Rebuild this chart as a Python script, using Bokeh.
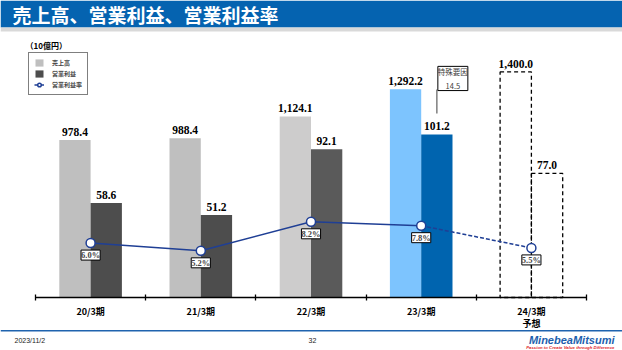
import numpy as np
from bokeh.plotting import figure
from bokeh.models import (Range1d, FixedTicker, ColumnDataSource, LabelSet, Label, LinearAxis,
                          BoxAnnotation, Legend, LegendItem, Arrow)
from bokeh.embed import file_html
from bokeh.resources import INLINE

# ---------------- data ----------------
categories = ["20/3期", "21/3期", "22/3期", "23/3期", "24/3期"]
category_notes = ["", "", "", "", "予想"]
net_sales = [978.4, 988.4, 1124.1, 1292.2, 1400.0]          # 売上高 (10億円)
operating_income = [58.6, 51.2, 92.1, 101.2, 77.0]           # 営業利益 (10億円)
operating_margin = [6.0, 5.2, 8.2, 7.8, 5.5]                 # 営業利益率 (%)
special_factor = 14.5                                        # 特殊要因 (23/3期)
n_actual = 4                                                 # last category is a forecast
sales_colors = ["#BFBFBF", "#BFBFBF", "#CDCCCC", "#7DC4FE"]
income_colors = ["#4D4D4D", "#4D4D4D", "#5A5A5A", "#0064AF"]

# ---------------- layout (pixel geometry of the slide) ----------------
W, H = 622, 350
AX_L, AX_R, AX_Y = 35.0, 586.0, 297.0      # axis extent / baseline on the page
SALES_PX = 0.1611                          # px per 10億円 (sales)
INCOME_PX = 1.611                          # px per 10億円 (operating income)
MARGIN_PX, MARGIN_ZERO_Y = 9.67, 300.6     # px per %, page y of 0 %
NUM_FONT = "Arial"
JP_FONT = "Noto Sans CJK JP"
LINE_BLUE = "#1F3F95"

n = len(categories)
xpx = (AX_R - AX_L) / n
x_range = Range1d(-AX_L / xpx, n + (W - AX_R) / xpx)
y_range = Range1d(-(H - AX_Y) / SALES_PX, AX_Y / SALES_PX)

p = figure(width=W, height=H, output_backend="svg", toolbar_location=None,
           x_range=x_range, y_range=y_range, x_axis_location=None, y_axis_location=None,
           min_border=0, min_border_left=0, min_border_right=0, min_border_top=0,
           min_border_bottom=0)
p.extra_y_ranges = {"income": Range1d(-(H - AX_Y) / INCOME_PX, AX_Y / INCOME_PX),
                    "margin": Range1d((MARGIN_ZERO_Y - H) / MARGIN_PX, MARGIN_ZERO_Y / MARGIN_PX)}
p.grid.visible = False
p.outline_line_color = None
p.background_fill_color = "white"
p.border_fill_color = "white"

centers = np.arange(n) + 0.5
bw = 0.284
sales_x = centers - bw / 2
inc_x = centers + bw / 2

act = ColumnDataSource(dict(xs=sales_x[:n_actual], xi=inc_x[:n_actual],
                            s=net_sales[:n_actual], i=operating_income[:n_actual],
                            cs=sales_colors, ci=income_colors))
fc = ColumnDataSource(dict(xs=sales_x[n_actual:], xi=inc_x[n_actual:],
                           s=net_sales[n_actual:], i=operating_income[n_actual:]))

r_sales = p.vbar(x="xs", top="s", width=bw, bottom=0, fill_color="cs", line_color=None, source=act)
r_inc = p.vbar(x="xi", top="i", width=bw, bottom=0, fill_color="ci", line_color=None,
               source=act, y_range_name="income")
p.vbar(x="xs", top="s", width=bw, bottom=0, fill_color=None, line_color="black",
       line_dash="4 3", line_width=1.3, source=fc)
p.vbar(x="xi", top="i", width=bw, bottom=0, fill_color=None, line_color="black",
       line_dash="4 3", line_width=1.3, source=fc, y_range_name="income")

# value labels
lab_src = ColumnDataSource(dict(xs=sales_x, xi=inc_x, s=net_sales, i=operating_income,
                                ts=[f"{v:,.1f}" for v in net_sales],
                                ti=[f"{v:,.1f}" for v in operating_income]))
p.add_layout(LabelSet(x="xs", y="s", text="ts", source=lab_src, y_offset=4,
                      text_align="center", text_baseline="bottom",
                      text_font=NUM_FONT, text_font_size="11.5px", text_font_style="bold",
                      text_color="black"))
p.add_layout(LabelSet(x="xi", y="i", text="ti", source=lab_src, y_offset=4,
                      text_align="center", text_baseline="bottom", y_range_name="income",
                      text_font=NUM_FONT, text_font_size="11.5px", text_font_style="bold",
                      text_color="black"))

# margin line
r_line = p.line(centers[:n_actual], operating_margin[:n_actual], y_range_name="margin",
                line_color=LINE_BLUE, line_width=1.5)
p.line(centers[n_actual - 1:], operating_margin[n_actual - 1:], y_range_name="margin",
       line_color=LINE_BLUE, line_width=1.5, line_dash="4 2")
r_pts = p.scatter(centers, operating_margin, y_range_name="margin", marker="circle",
                  size=9, fill_color="white", line_color=LINE_BLUE, line_width=1.5)
m_src = ColumnDataSource(dict(x=centers, y=operating_margin,
                              t=[f"{v:.1f}%" for v in operating_margin]))
p.add_layout(LabelSet(x="x", y="y", text="t", source=m_src, y_range_name="margin",
                      y_offset=-12, text_align="center", text_baseline="middle",
                      text_font=NUM_FONT, text_font_size="8.5px", text_font_style="bold",
                      background_fill_color="white", border_line_color="black",
                      border_line_width=1))

# special factor callout on 23/3 operating income
y_top = operating_income[n_actual - 1]
p.add_layout(Arrow(end=None, x_start=inc_x[n_actual - 1], x_end=inc_x[n_actual - 1],
                   y_start=y_top + 21 / INCOME_PX, y_end=y_top + 45 / INCOME_PX,
                   y_range_name="income", line_color="#7F7F7F", line_width=1.5))
p.add_layout(Label(x=inc_x[n_actual - 1], y=y_top, y_range_name="income", x_offset=16, y_offset=56,
                   text=f"特殊要因\n{special_factor}", text_align="center", text_baseline="middle",
                   text_font=JP_FONT, text_font_size="7.5px", text_color="#404040",
                   background_fill_color="white", border_line_color="black",
                   border_line_width=1))

# x axis drawn at the zero baseline
ax = LinearAxis(fixed_location=0, bounds=(0, n))
ax.ticker = FixedTicker(ticks=list(centers), minor_ticks=list(range(n + 1)))
ax.major_label_overrides = {float(c): (lab + ("\n" + note if note else ""))
                            for c, lab, note in zip(centers, categories, category_notes)}
ax.axis_line_color = "black"
ax.axis_line_width = 1.5
ax.major_tick_in = 0
ax.major_tick_out = 0
ax.minor_tick_in = 3
ax.minor_tick_out = 3
ax.minor_tick_line_color = "black"
ax.minor_tick_line_width = 1.3
ax.major_label_standoff = 4
ax.major_label_text_font = JP_FONT
ax.major_label_text_font_size = "9px"
ax.major_label_text_font_style = "bold"
ax.major_label_text_color = "black"
ax.major_label_text_line_height = 0.95
p.add_layout(ax, "below")

# legend
legend = Legend(items=[LegendItem(label="売上高", renderers=[r_sales], index=0),
                       LegendItem(label="営業利益", renderers=[r_inc], index=0),
                       LegendItem(label="営業利益率", renderers=[r_line, r_pts])],
                location=(28, H - 95), border_line_color="black", border_line_width=1.2,
                background_fill_color="white", background_fill_alpha=1,
                label_text_font=JP_FONT, label_text_font_size="6px", label_text_font_style="bold",
                glyph_width=10, glyph_height=9, label_height=9, spacing=2, padding=5,
                label_standoff=8, margin=0)
p.add_layout(legend)

# unit
p.add_layout(Label(x=25, y=45, x_units="canvas", y_units="canvas", text="（10億円）",
                   text_font=JP_FONT, text_font_size="8px", text_font_style="bold",
                   text_baseline="middle", text_color="black"))

# slide decorations: banner, footer
def band(top, bottom, color):
    p.add_layout(BoxAnnotation(left=0, right=W, top=top, bottom=bottom, left_units="canvas",
                               right_units="canvas", top_units="canvas", bottom_units="canvas",
                               fill_color=color, fill_alpha=1, line_color=None, level="underlay"))

band(0, 27, "#0563B0")
band(27, 31, "#D9D9D9")
band(329.5, 331, "#1F63AE")
p.add_layout(Label(x=12, y=14, x_units="canvas", y_units="canvas",
                   text="売上高、営業利益、営業利益率", text_font=JP_FONT,
                   text_font_size="19px", text_font_style="bold", text_color="white",
                   text_baseline="middle"))
p.add_layout(Label(x=14, y=340, x_units="canvas", y_units="canvas", text="2023/11/2",
                   text_font=NUM_FONT, text_font_size="7px", text_color="#222222",
                   text_baseline="middle"))
p.add_layout(Label(x=312, y=340, x_units="canvas", y_units="canvas", text="32",
                   text_font=NUM_FONT, text_font_size="7px", text_color="#222222",
                   text_align="center", text_baseline="middle"))
p.add_layout(Label(x=614, y=339, x_units="canvas", y_units="canvas", text="MinebeaMitsumi",
                   text_font=NUM_FONT, text_font_size="11px", text_font_style="bold italic",
                   text_color="#1D5FAE", text_align="right", text_baseline="middle"))
p.add_layout(Label(x=614, y=346.5, x_units="canvas", y_units="canvas",
                   text="Passion to Create Value through Difference",
                   text_font=NUM_FONT, text_font_size="4.3px", text_font_style="bold italic",
                   text_color="#E0262A", text_align="right", text_baseline="middle"))

open("out.html", "w").write(file_html(p, INLINE))
